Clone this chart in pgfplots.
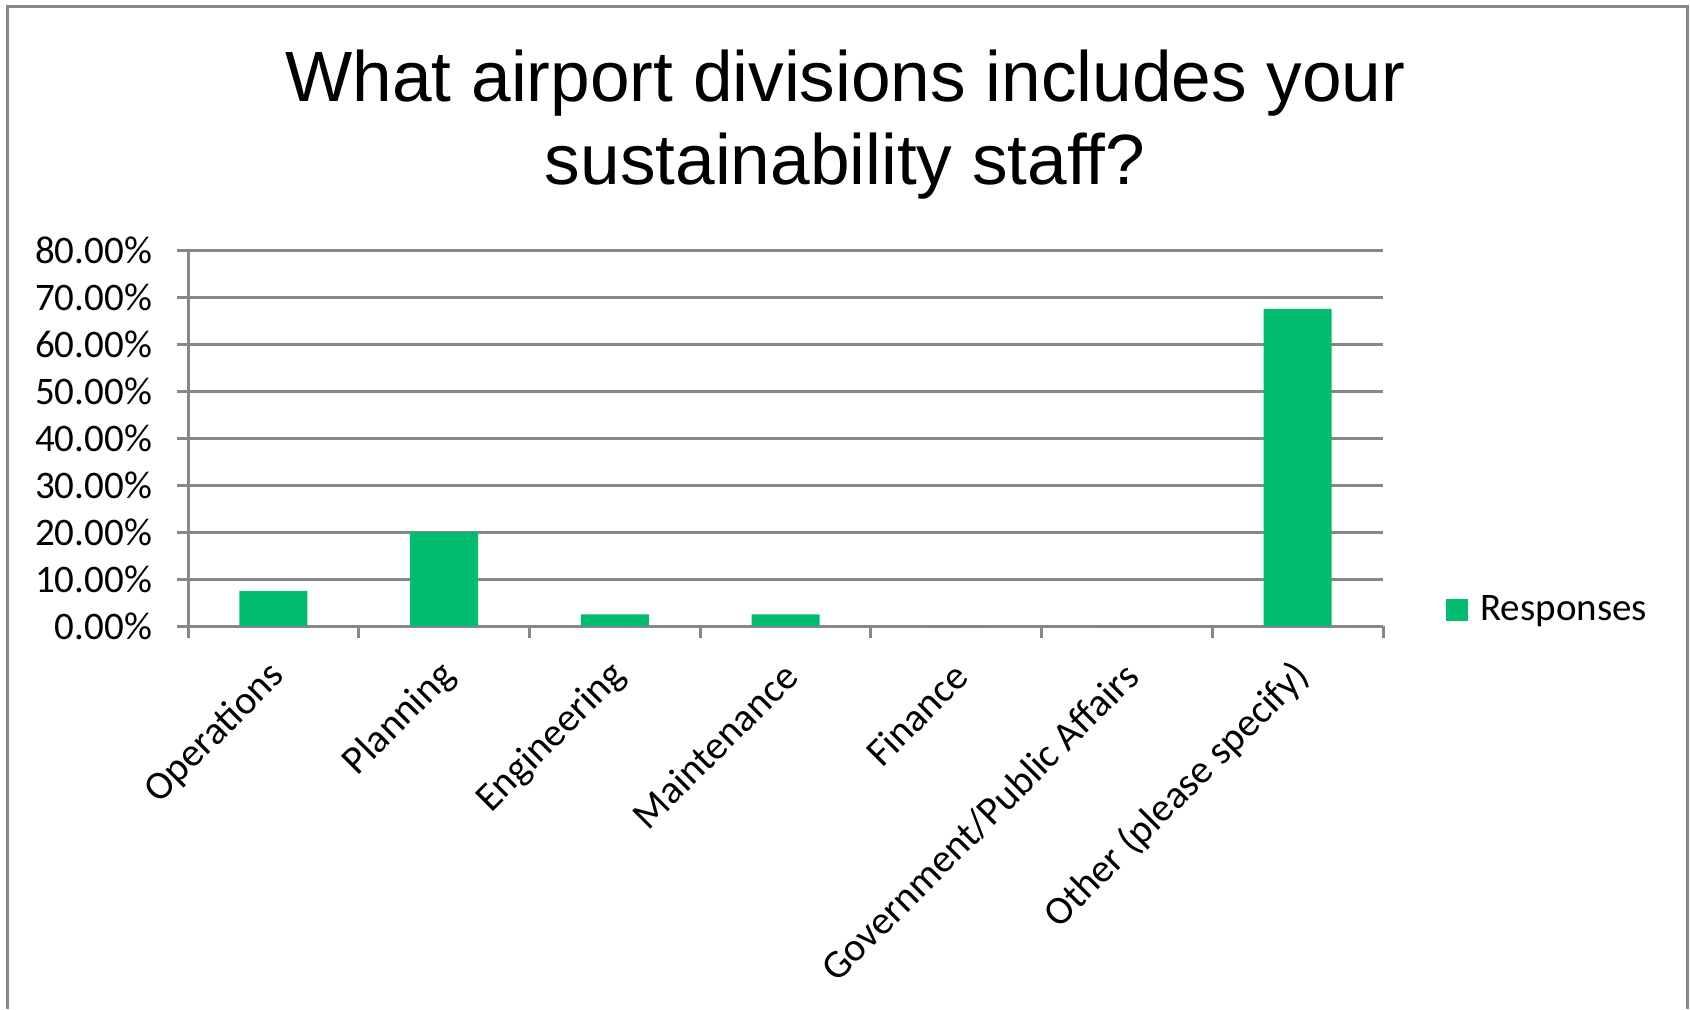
\documentclass[border=0pt]{standalone}
\usepackage{pgfplots}
\pgfplotsset{compat=1.18}
\usepackage{fontspec}
\setmainfont{Carlito}
\newfontfamily\titlefont{Liberation Sans}
\definecolor{bargreen}{RGB}{0,189,112}
\definecolor{axgray}{RGB}{135,135,135}
\begin{document}
\begin{tikzpicture}
\useasboundingbox (0pt,0pt) rectangle (845pt,-504.5pt);
\draw[axgray, line width=1.5pt] (3.5pt,-504.5pt) -- (3.5pt,-3pt) -- (843.5pt,-3pt) -- (843.5pt,-504.5pt);
\node[anchor=base, font=\titlefont\fontsize{35.6pt}{41pt}\selectfont, inner sep=0pt] at (422.75pt,-50.85pt) {What airport divisions includes your};
\node[anchor=base, font=\titlefont\fontsize{35.6pt}{41pt}\selectfont, inner sep=0pt] at (422.5pt,-92pt) {sustainability staff?};
\begin{axis}[
  at={(94pt,-313pt)}, anchor=south west,
  scale only axis, width=597.5pt, height=188pt,
  xmin=-0.5, xmax=6.5, ymin=0, ymax=80,
  ybar,
  axis x line*=bottom, axis y line*=left,
  axis line style={axgray, line width=1.5pt},
  /pgf/number format/assume math mode=true,
  ytick={0,10,...,80},
  yticklabel={\pgfmathprintnumber[fixed,fixed zerofill,precision=2]{\tick}\%},
  xtick={0,1,2,3,4,5,6},
  xticklabels={Operations,Planning,Engineering,Maintenance,Finance,Government/Public Affairs,Other (please specify)},
  minor xtick={-0.5,0.5,1.5,2.5,3.5,4.5,5.5,6.5},
  major x tick style={draw=none},
  tick align=outside,
  major tick length=5.5pt,
  minor tick length=6pt,
  tick style={axgray, line width=1.5pt},
  ymajorgrids,
  grid style={axgray, line width=1.5pt},
  ticklabel style={font=\fontsize{19.5pt}{23pt}\selectfont, text=black},
  yticklabel style={xshift=-9pt},
  xticklabel style={font=\fontsize{20pt}{23pt}\selectfont, xshift=5pt, yshift=-14pt, rotate=45, anchor=east},
  legend style={at={(1.0527,0.0439)}, anchor=west, draw=none, fill=none, inner sep=0pt,
    font=\fontsize{19.5pt}{23pt}\selectfont},
  legend cell align=left,
]
\addplot[ybar, bar width=34pt, fill=bargreen, draw=none,
  legend image code/.code={\fill[bargreen] (0pt,-5.5pt) rectangle (11pt,5.5pt); \path (15pt,0pt);}]
  coordinates {(0,7.5) (1,20) (2,2.5) (3,2.5) (4,0) (5,0) (6,67.5)};
\addlegendentry{Responses}
\end{axis}
\end{tikzpicture}
\end{document}
